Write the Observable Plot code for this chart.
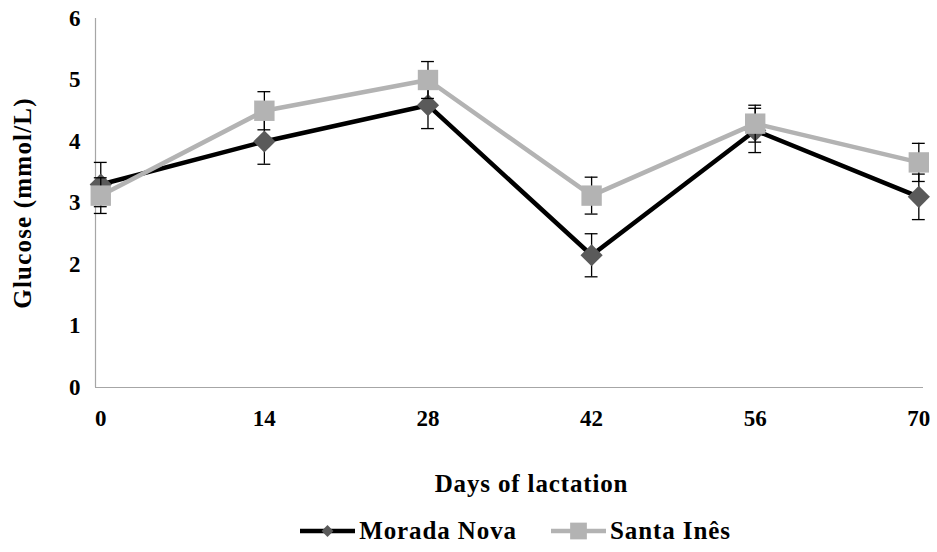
<!DOCTYPE html>
<html>
<head>
<meta charset="utf-8">
<script src="https://cdn.jsdelivr.net/npm/d3@7"></script>
<script src="https://cdn.jsdelivr.net/npm/@observablehq/plot@0.6"></script>
<style>
  html, body { margin: 0; padding: 0; background: #fff; }
  #chart { width: 937px; }
  #chart g[aria-label="y-axis label"] { font-size: 25px; letter-spacing: 1.2px; }
  #chart g[aria-label="text"] { letter-spacing: 0.85px; }
  #legend { display: flex; justify-content: center; align-items: center; gap: 34px; height: 42px;
    font-family: "Liberation Serif", "Times New Roman", serif; font-weight: bold; font-size: 25px; letter-spacing: 0.9px; color: #000;
    padding-left: 94px; }
  .item { display: flex; align-items: center; gap: 4px; }
</style>
</head>
<body>
<div id="chart"></div>
<div id="legend"></div>
<script>
const days = [0, 14, 28, 42, 56, 70];
const moradaNova = [3.3, 4.0, 4.59, 2.15, 4.18, 3.1];
const moradaNovaErr = [0.36, 0.37, 0.38, 0.35, 0.36, 0.37];
const santaInes = [3.12, 4.5, 5.0, 3.12, 4.29, 3.66];
const santaInesErr = [0.29, 0.31, 0.3, 0.3, 0.3, 0.31];
const seriesNames = ["Morada Nova", "Santa Inês"];
const yTicks = [0, 1, 2, 3, 4, 5, 6];
const xLabel = "Days of lactation";
const yLabel = "Glucose (mmol/L)";

const styles = [
  {line: "#000000", fill: "#5a5a5a", symbol: "diamond2", r: 10, legendSize: 90},
  {line: "#b3b3b3", fill: "#b3b3b3", symbol: "square", r: 11.5, legendSize: 280}
];
const values = [moradaNova, santaInes];
const errs = [moradaNovaErr, santaInesErr];

const series = seriesNames.map((name, i) =>
  days.map((d, j) => ({day: d, value: values[i][j], err: errs[i][j], series: name}))
);

const xMin = -0.45, xMax = 70.4, capHalf = 0.55;

const marks = [
  Plot.ruleX([xMin], {stroke: "#a6a6a6", strokeWidth: 1.2}),
  Plot.ruleY([0], {stroke: "#a6a6a6", strokeWidth: 1.2}),
  Plot.text([xLabel], {text: d => d, frameAnchor: "bottom", dx: 22, dy: 96, fontSize: 25, lineAnchor: "middle", fill: "#000"})
];
series.forEach((data, i) => {
  const s = styles[i];
  marks.push(
    Plot.line(data, {x: "day", y: "value", stroke: s.line, strokeWidth: 4.5}),
    Plot.ruleX(data, {x: "day", y1: d => d.value - d.err, y2: d => d.value + d.err, stroke: "#000", strokeWidth: 1.3}),
    Plot.ruleY(data, {y: d => d.value + d.err, x1: d => d.day - capHalf, x2: d => d.day + capHalf, stroke: "#000", strokeWidth: 1.3}),
    Plot.ruleY(data, {y: d => d.value - d.err, x1: d => d.day - capHalf, x2: d => d.day + capHalf, stroke: "#000", strokeWidth: 1.3}),
    Plot.dot(data, {x: "day", y: "value", symbol: s.symbol, r: s.r, fill: s.fill, stroke: "none"})
  );
});

const chart = Plot.plot({
  width: 937,
  height: 510,
  marginLeft: 95,
  marginRight: 14,
  marginTop: 18,
  marginBottom: 123,
  style: {fontFamily: "'Liberation Serif', 'Times New Roman', serif", fontSize: "23px", fontWeight: "bold", color: "#000", background: "#fff"},
  x: {domain: [xMin, xMax], ticks: days, tickSize: 0, tickPadding: 22, tickFormat: d => String(d), label: null},
  y: {domain: [0, 6], ticks: yTicks, tickSize: 0, tickPadding: 15, tickFormat: d => String(d),
      label: yLabel, labelAnchor: "center", labelOffset: 82, labelArrow: "none"},
  marks
});
document.getElementById("chart").appendChild(chart);

// legend
const legend = document.getElementById("legend");
seriesNames.forEach((name, i) => {
  const s = styles[i];
  const item = document.createElement("div");
  item.className = "item";
  const sw = d3.create("svg").attr("width", 55).attr("height", 24);
  sw.append("line").attr("x1", 0).attr("x2", 55).attr("y1", 12).attr("y2", 12)
    .attr("stroke", s.line).attr("stroke-width", 4.5);
  const sym = s.symbol === "square" ? d3.symbolSquare : d3.symbolDiamond2;
  sw.append("path").attr("transform", "translate(27.5,12)")
    .attr("d", d3.symbol(sym, s.legendSize)()).attr("fill", s.fill);
  item.appendChild(sw.node());
  const t = document.createElement("span");
  t.textContent = name;
  item.appendChild(t);
  legend.appendChild(item);
});
</script>
</body>
</html>
